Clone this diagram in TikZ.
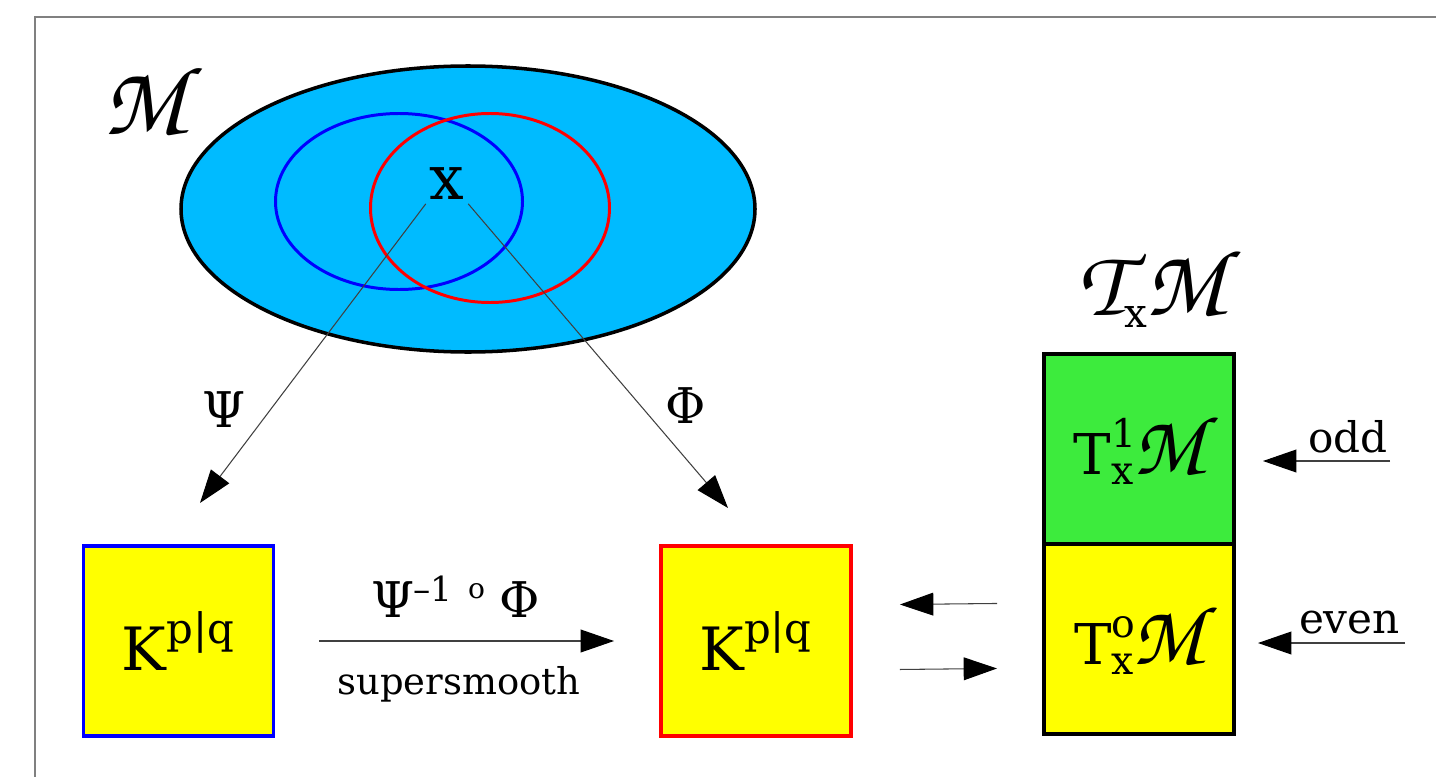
\documentclass[tikz,border=0pt]{standalone}
\usepackage{amsmath}
\usepackage{fontspec}
\setmainfont{DejaVu Serif}
\usetikzlibrary{arrows.meta,positioning}
\newcommand{\chanc}[2]{{\fontsize{#1}{#1}\usefont{OT1}{pzc}{m}{it}#2}}
\definecolor{skyfill}{HTML}{00BBFF}
\definecolor{oddgreen}{HTML}{3DEB3D}
\definecolor{chartyellow}{HTML}{FFFF00}
\definecolor{framegray}{HTML}{808080}
\tikzset{
  chartbox/.style={draw, line width=2pt, fill=chartyellow, minimum width=3.8cm, minimum height=3.8cm, inner sep=0pt, outer sep=0pt, font=\fontsize{34}{38}\selectfont},
  maparrow/.style={black!75, line width=0.6pt, -{Triangle[length=19pt, width=13pt, color=black]}},
  greeklabel/.style={font=\fontsize{28}{32}\selectfont},
  textlabel/.style={font=\fontsize{24}{28}\selectfont, inner sep=1pt}
}
\begin{document}
\begin{tikzpicture}[x=0.02cm, y=-0.02cm]
  \useasboundingbox (0,0) rectangle (1436,777);
  \draw[framegray, line width=1pt] (35,777) -- (35,17) -- (1436,17);

  % the supermanifold with two overlapping charts
  \draw[fill=skyfill, line width=2pt] (468,209) ellipse [x radius=287, y radius=143];
  \draw[blue, line width=1.7pt] (399,201.5) ellipse [x radius=123.5, y radius=88];
  \draw[red, line width=1.7pt] (490,208) ellipse [x radius=119.5, y radius=94.5];
  \node (mlabel) at (145,100) {\chanc{56pt}{M}};
  \node[font=\fontsize{35}{40}\selectfont, inner sep=2pt] (xpt) at (447,184) {x};

  % local models
  \node[chartbox, draw=blue] (kleft) at (178.5,641) {$\text{K}^{\text{p|q}}$};
  \node[chartbox, draw=red] (kright) at (756,641) {$\text{K}^{\text{p|q}}$};

  \coordinate (psitip) at (200,503);
  \coordinate (phitip) at (728,508);
  \draw[maparrow] (xpt.south west) -- (psitip);
  \draw[maparrow] (xpt.south east) -- (phitip);
  \node[greeklabel] (psilbl) at (224,410) {Ψ};
  \node[greeklabel] (philbl) at (686,406) {Φ};

  \draw[maparrow, shorten <=0.92cm, shorten >=0.94cm] (kleft) -- (kright);
  \node[greeklabel] (complbl) at (456,597) {Ψ\kern-1pt\textsuperscript{–1}\hspace{0.3em}\raisebox{0.75ex}{\fontsize{16}{16}\selectfont o}\hspace{0.3em}Φ};
  \node[textlabel, font=\fontsize{21}{25}\selectfont] (smoothlbl) at (459,684) {supersmooth};

  % tangent space split
  \node[chartbox, fill=oddgreen, font=\fontsize{32}{36}\selectfont] (tone) at (1139,449) {$\text{T}^{\text{1}}_{\text{x}}$\kern-2pt\chanc{48pt}{M}};
  \node[chartbox, font=\fontsize{32}{36}\selectfont, below=0pt of tone] (tzero) {$\text{T}^{\text{o}}_{\text{x}}$\kern-2pt\chanc{48pt}{M}};
  \node (tlabel) at (1152,287) {\chanc{54pt}{T}\kern-1pt\raisebox{-7pt}{\fontsize{23}{23}\selectfont x}\kern-1pt\chanc{54pt}{M}};

  \draw[maparrow, shorten <=0.94cm, shorten >=0.98cm] ([yshift=0.72cm]tzero.west) -- ([yshift=0.72cm]kright.east);
  \draw[maparrow, shorten <=0.98cm, shorten >=0.94cm] ([yshift=-0.58cm]kright.east) -- ([yshift=-0.58cm]tzero.west);

  \coordinate (oddstart) at (1390,461);
  \coordinate (evenstart) at (1405,643);
  \draw[maparrow, shorten >=0.58cm] (oddstart) -- (oddstart -| tone.east);
  \draw[maparrow, shorten >=0.48cm] (evenstart) -- (evenstart -| tzero.east);
  \node[textlabel, anchor=base east] (oddlbl) at (1390,452) {odd};
  \node[textlabel, anchor=base east] (evenlbl) at (1402,633) {even};
\end{tikzpicture}
\end{document}
